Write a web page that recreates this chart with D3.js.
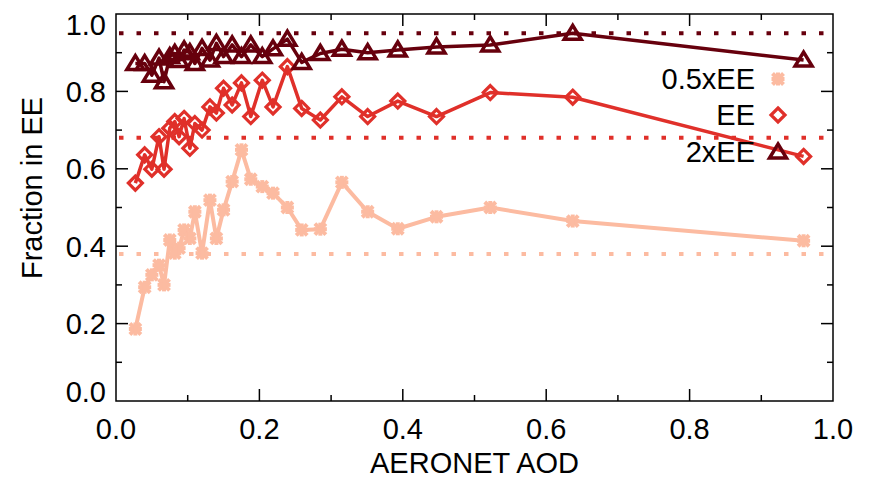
<!DOCTYPE html>
<html>
<head>
<meta charset="utf-8">
<script src="https://cdn.jsdelivr.net/npm/d3@7"></script>
<style>
  body { margin: 0; background: #fff; }
  text { font-family: "Liberation Sans", Arial, Helvetica, sans-serif; fill: #000; }
</style>
</head>
<body>
<svg id="chart" width="871" height="479"></svg>
<script>
// AERONET AOD bins (shared by the three curves)
const aod = [0.027, 0.040, 0.050, 0.060, 0.067, 0.075, 0.082, 0.088, 0.095, 0.103,
             0.110, 0.120, 0.131, 0.140, 0.150, 0.162, 0.175, 0.188, 0.204, 0.219,
             0.239, 0.259, 0.285, 0.315, 0.351, 0.393, 0.447, 0.522, 0.637, 0.959];
// fraction within 0.5xEE, EE, 2xEE
const halfEE = [0.186, 0.294, 0.326, 0.351, 0.300, 0.416, 0.382, 0.395, 0.442, 0.420,
                0.489, 0.382, 0.519, 0.420, 0.494, 0.567, 0.649, 0.573, 0.554, 0.537,
                0.500, 0.442, 0.444, 0.565, 0.489, 0.445, 0.476, 0.500, 0.465, 0.414];
const ee     = [0.563, 0.636, 0.599, 0.683, 0.599, 0.705, 0.722, 0.683, 0.730, 0.653,
                0.717, 0.700, 0.760, 0.744, 0.808, 0.765, 0.822, 0.735, 0.829, 0.760,
                0.864, 0.756, 0.726, 0.786, 0.735, 0.775, 0.735, 0.797, 0.785, 0.632];
const twoEE  = [0.872, 0.872, 0.842, 0.886, 0.825, 0.890, 0.898, 0.880, 0.907, 0.900,
                0.872, 0.911, 0.881, 0.924, 0.890, 0.920, 0.890, 0.920, 0.890, 0.910,
                0.935, 0.875, 0.898, 0.909, 0.900, 0.907, 0.915, 0.920, 0.950, 0.881];
// expected fractions (dotted reference lines)
const expected = [0.38, 0.68, 0.95];
const names = ["0.5xEE", "EE", "2xEE"];
const colors = ["#fcbba1", "#e0302a", "#67000d"];
const xMajor = [0, 0.2, 0.4, 0.6, 0.8, 1.0];
const xMinor = [0.1, 0.3, 0.5, 0.7, 0.9];
const yMajor = [0, 0.2, 0.4, 0.6, 0.8, 1.0];
const yMinor = [0.1, 0.3, 0.5, 0.7, 0.9];

const svg = d3.select("#chart");
const mLeft = 116, mRight = 833, mTop = 14, mBottom = 401;
const fs = 29;

const x = d3.scaleLinear().domain([0, 1]).range([mLeft, mRight]);
const y = d3.scaleLinear().domain([0, 1]).range([mBottom, mTop]);

// dotted reference lines
svg.selectAll(".ref")
  .data(expected)
  .enter()
  .append("line")
  .attr("class", "ref")
  .attr("x1", mLeft + 3).attr("x2", mRight)
  .attr("y1", d => y(d)).attr("y2", d => y(d))
  .attr("stroke", (d, i) => colors[i])
  .attr("stroke-width", 4)
  .attr("stroke-dasharray", "4.5 13");

const series = [halfEE, ee, twoEE];
const line = d3.line()
  .x(d => x(d[0]))
  .y(d => y(d[1]));

// markers
function drawMarker(g, kind, color) {
  if (kind === 0) {
    // thick asterisk
    const s = 5.5;
    [[-s, -s, s, s], [-s, s, s, -s], [-s - 1, 0, s + 1, 0], [0, -s - 1, 0, s + 1]].forEach(function (l) {
      g.append("line")
        .attr("x1", l[0]).attr("y1", l[1]).attr("x2", l[2]).attr("y2", l[3])
        .attr("stroke", color).attr("stroke-width", 4);
    });
  } else if (kind === 1) {
    g.append("path")
      .attr("d", "M0,-7 L7,0 L0,7 L-7,0 Z")
      .attr("fill", "none").attr("stroke", color).attr("stroke-width", 3.2);
  } else {
    g.append("path")
      .attr("d", "M0,-8 L8.5,6 L-8.5,6 Z")
      .attr("fill", "none").attr("stroke", color).attr("stroke-width", 3.5)
      .attr("stroke-linejoin", "miter");
  }
}

series.forEach(function (vals, si) {
  const pts = aod.map((a, i) => [a, vals[i]]);
  svg.append("path")
    .datum(pts)
    .attr("d", line)
    .attr("fill", "none")
    .attr("stroke", colors[si])
    .attr("stroke-width", si === 0 ? 4 : 3.5)
    .attr("stroke-linejoin", "round");
  pts.forEach(function (p) {
    const g = svg.append("g").attr("transform", "translate(" + x(p[0]) + "," + y(p[1]) + ")");
    drawMarker(g, si, colors[si]);
  });
});

// frame and ticks
svg.append("rect")
  .attr("x", mLeft).attr("y", mTop)
  .attr("width", mRight - mLeft).attr("height", mBottom - mTop)
  .attr("fill", "none").attr("stroke", "#000").attr("stroke-width", 1.5);

const tickG = svg.append("g").attr("stroke", "#000").attr("stroke-width", 1.5);
function ticks(vals, len) {
  vals.forEach(function (v) {
    tickG.append("line").attr("x1", x(v)).attr("x2", x(v)).attr("y1", mBottom).attr("y2", mBottom - len);
    tickG.append("line").attr("x1", x(v)).attr("x2", x(v)).attr("y1", mTop).attr("y2", mTop + len);
    tickG.append("line").attr("y1", y(v)).attr("y2", y(v)).attr("x1", mLeft).attr("x2", mLeft + len);
    tickG.append("line").attr("y1", y(v)).attr("y2", y(v)).attr("x1", mRight).attr("x2", mRight - len);
  });
}
ticks(xMajor.slice(1, -1), 12);
ticks(xMinor, 6);

// tick labels
svg.selectAll(".xl")
  .data(xMajor)
  .enter()
  .append("text")
  .attr("x", d => x(d))
  .attr("y", 429)
  .attr("dy", "0.36em")
  .attr("text-anchor", "middle")
  .attr("font-size", fs)
  .text(d => d3.format(".1f")(d));

svg.selectAll(".yl")
  .data(yMajor)
  .enter()
  .append("text")
  .attr("x", mLeft - 10)
  .attr("y", d => Math.min(Math.max(y(d), mTop + 11), mBottom - 9))
  .attr("dy", "0.36em")
  .attr("text-anchor", "end")
  .attr("font-size", fs)
  .text(d => d3.format(".1f")(d));

// axis titles
svg.append("text")
  .attr("x", (mLeft + mRight) / 2)
  .attr("y", 463)
  .attr("dy", "0.36em")
  .attr("text-anchor", "middle")
  .attr("font-size", fs)
  .text("AERONET AOD");

svg.append("text")
  .attr("transform", "translate(32," + 188 + ") rotate(-90)")
  .attr("dy", "0.36em")
  .attr("text-anchor", "middle")
  .attr("font-size", fs)
  .text("Fraction in EE");

// legend
const legY = [79, 115, 152];
names.forEach(function (n, i) {
  svg.append("text")
    .attr("x", 755)
    .attr("y", legY[i])
    .attr("dy", "0.36em")
    .attr("text-anchor", "end")
    .attr("font-size", fs)
    .text(n);
  const g = svg.append("g").attr("transform", "translate(778," + legY[i] + ")");
  drawMarker(g, i, colors[i]);
});
</script>
</body>
</html>
